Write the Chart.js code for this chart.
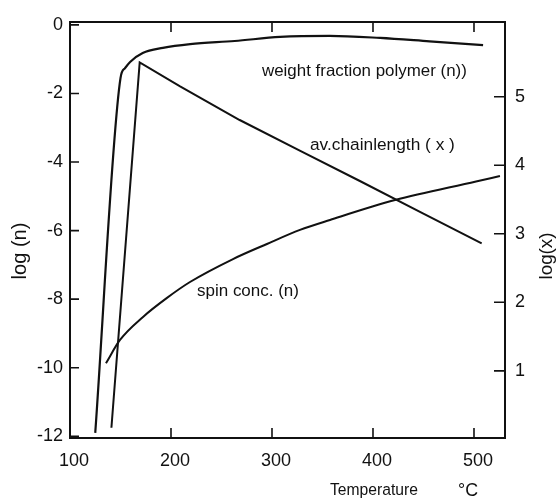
<!DOCTYPE html>
<html>
<head>
<meta charset="utf-8">
<script src="https://cdn.jsdelivr.net/npm/chart.js@4.4.0/dist/chart.umd.min.js"></script>
<style>
html,body{margin:0;padding:0;background:#fff;}
canvas{display:block;}
</style>
</head>
<body>
<canvas id="c" width="557" height="501"></canvas>
<script>
// ---- data ----
const polymerT = [125, 150, 154.5, 159.5, 172, 192, 219, 263, 308, 357, 407, 456, 509];
const polymerLogN = [-11.9, -1.55, -1.26, -1.08, -0.82, -0.67, -0.56, -0.47, -0.35, -0.32, -0.38, -0.48, -0.59];

const chainT = [141, 169, 209, 268, 328, 387, 446.5, 507.6];
const chainLogX = [0.17, 5.50, 5.15, 4.66, 4.21, 3.77, 3.32, 2.86];

const spinT = [135.6, 149.5, 172.6, 195.7, 218.8, 261.4, 295.0, 327.7, 357.4, 421.8, 502.0, 525.7];
const spinLogN = [-9.87, -9.19, -8.51, -7.97, -7.50, -6.83, -6.39, -5.98, -5.69, -5.11, -4.57, -4.41];

const xTicks = [100, 200, 300, 400, 500];
const leftTicks = [0, -2, -4, -6, -8, -10, -12];
const rightTicks = [1, 2, 3, 4, 5];

const labelPolymer = 'weight fraction polymer (n))';
const labelChain = 'av.chainlength ( x )';
const labelSpin = 'spin conc. (n)';
const titleLeft = 'log (n)';
const titleRight = 'log(x)';
const titleX = 'Temperature';
const titleXUnit = '°C';

const INK = '#111';
const FAMILY = '"Liberation Sans", Arial, sans-serif';

function pts(xs, ys){ return xs.map((x,i)=>({x:x, y:ys[i]})); }

function fitFont(ctx, text, targetW, base){
  ctx.font = base + 'px ' + FAMILY;
  const w = ctx.measureText(text).width;
  const s = base * targetW / w;
  ctx.font = s.toFixed(2) + 'px ' + FAMILY;
  return s;
}

const decor = {
  id: 'decor',
  afterDraw(chart){
    const ctx = chart.ctx;
    const a = chart.chartArea;
    const sx = chart.scales.x, sl = chart.scales.y, sr = chart.scales.y2;
    ctx.save();
    ctx.strokeStyle = INK;
    ctx.lineWidth = 2;
    ctx.strokeRect(a.left, a.top, a.right - a.left, a.bottom - a.top);
    ctx.lineWidth = 1.6;
    ctx.beginPath();
    xTicks.forEach(v => {
      if (v <= sx.min) return;
      const p = sx.getPixelForValue(v);
      ctx.moveTo(p, a.bottom); ctx.lineTo(p, a.bottom - 10);
      ctx.moveTo(p, a.top); ctx.lineTo(p, a.top + 10);
    });
    leftTicks.forEach(v => {
      const p = sl.getPixelForValue(v);
      ctx.moveTo(a.left, p); ctx.lineTo(a.left + 9, p);
    });
    rightTicks.forEach(v => {
      const p = sr.getPixelForValue(v);
      ctx.moveTo(a.right, p); ctx.lineTo(a.right - 11, p);
    });
    ctx.stroke();

    ctx.fillStyle = INK;
    ctx.textBaseline = 'middle';
    ctx.textAlign = 'left';
    fitFont(ctx, labelPolymer, 205, 15);
    ctx.fillText(labelPolymer, 262, 71);
    fitFont(ctx, labelChain, 145, 15);
    ctx.fillText(labelChain, 310, 145);
    fitFont(ctx, labelSpin, 102, 15);
    ctx.fillText(labelSpin, 197, 291);

    ctx.textAlign = 'center';
    fitFont(ctx, titleX, 88, 15);
    ctx.fillText(titleX, 374, 491);
    fitFont(ctx, titleXUnit, 20, 15);
    ctx.fillText(titleXUnit, 468, 491);

    ctx.save();
    ctx.translate(20, 251);
    ctx.rotate(-Math.PI/2);
    fitFont(ctx, titleLeft, 57, 16);
    ctx.fillText(titleLeft, 0, 0);
    ctx.restore();

    ctx.save();
    ctx.translate(547, 256);
    ctx.rotate(-Math.PI/2);
    fitFont(ctx, titleRight, 47, 16);
    ctx.fillText(titleRight, 0, 0);
    ctx.restore();

    ctx.restore();
  }
};

const tickFont = {family: FAMILY, size: 18};

new Chart(document.getElementById('c'), {
  type: 'line',
  data: {
    datasets: [
      {data: pts(polymerT, polymerLogN), yAxisID: 'y', borderColor: INK, borderWidth: 2.2, pointRadius: 0, cubicInterpolationMode: 'monotone', fill: false},
      {data: pts(chainT, chainLogX), yAxisID: 'y2', borderColor: INK, borderWidth: 2, pointRadius: 0, tension: 0, fill: false},
      {data: pts(spinT, spinLogN), yAxisID: 'y', borderColor: INK, borderWidth: 2, pointRadius: 0, cubicInterpolationMode: 'monotone', fill: false}
    ]
  },
  options: {
    responsive: false,
    animation: false,
    devicePixelRatio: 1,
    layout: {padding: {top: 22, left: 0, right: 0, bottom: 0}},
    plugins: {legend: {display: false}, tooltip: {enabled: false}},
    scales: {
      x: {
        type: 'linear', position: 'bottom', min: 100, max: 530.7,
        grid: {display: false, drawTicks: false},
        border: {display: false},
        afterBuildTicks: s => { s.ticks = xTicks.map(v => ({value: v})); },
        afterFit: s => { s.height = 63; },
        ticks: {color: INK, font: tickFont, padding: 12, labelOffset: 4, maxRotation: 0, autoSkip: false,
          callback: v => String(v)}
      },
      y: {
        type: 'linear', position: 'left', min: -12.05, max: 0.085,
        grid: {display: false, drawTicks: false},
        border: {display: false},
        afterBuildTicks: s => { s.ticks = leftTicks.map(v => ({value: v})); },
        afterFit: s => { s.width = 70; },
        ticks: {color: INK, font: tickFont, padding: 7, autoSkip: false, callback: v => String(v)}
      },
      y2: {
        type: 'linear', position: 'right', min: 0.02, max: 6.09,
        grid: {display: false, drawTicks: false},
        border: {display: false},
        afterBuildTicks: s => { s.ticks = rightTicks.map(v => ({value: v})); },
        afterFit: s => { s.width = 52; },
        ticks: {color: INK, font: tickFont, padding: 10, autoSkip: false, callback: v => String(v)}
      }
    }
  },
  plugins: [decor]
});
</script>
</body>
</html>
